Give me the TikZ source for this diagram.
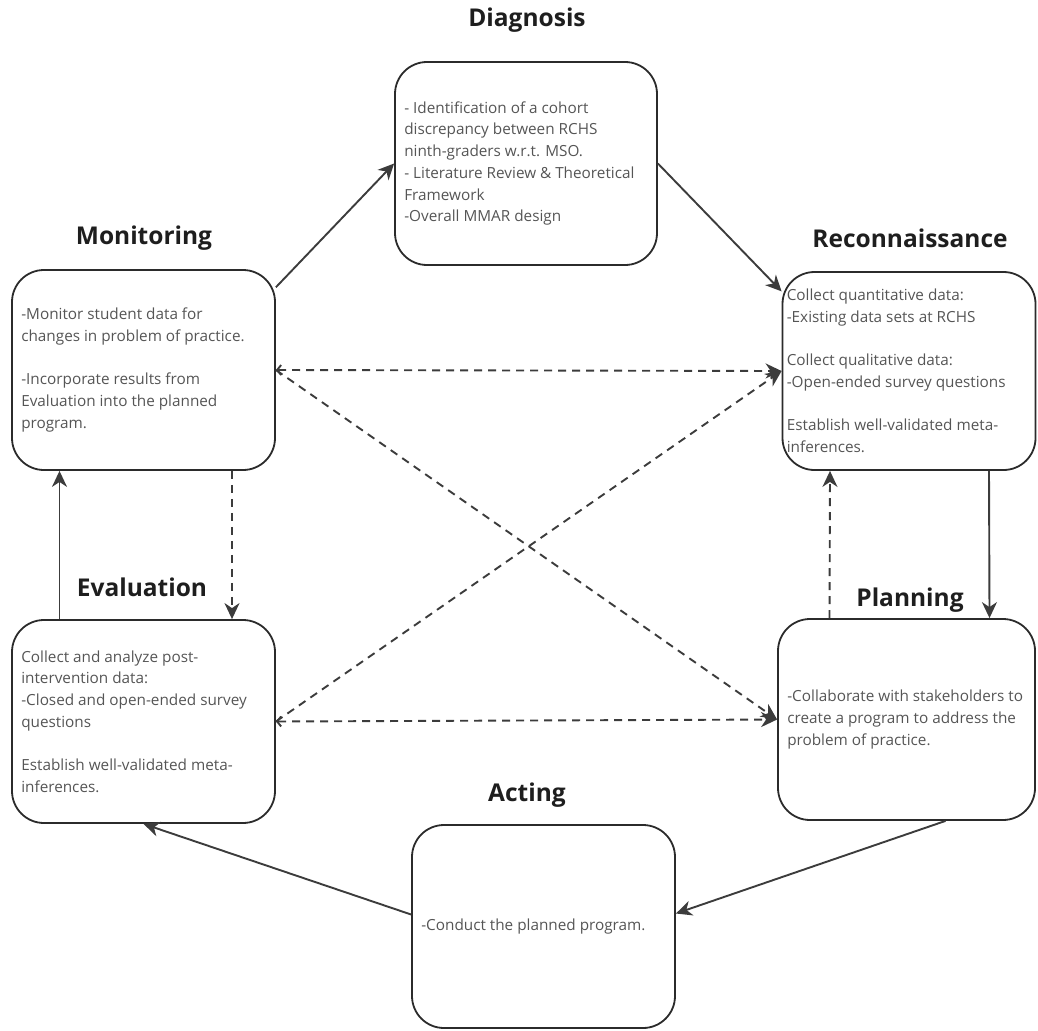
\documentclass[tikz,border=0pt]{standalone}
\usepackage{fontspec}
\setmainfont{Open Sans}
\usetikzlibrary{arrows.meta,calc}
\definecolor{boxline}{HTML}{2B2B2B}
\definecolor{arrowline}{HTML}{3C3C3C}
\definecolor{bodytext}{HTML}{555555}
\definecolor{titletext}{HTML}{1E1E1E}
\begin{document}
\begin{tikzpicture}[x=1pt,y=-1pt,
  stage/.style={draw=boxline, line width=1.8pt, rounded corners=32pt, inner sep=0pt},
  body/.style={anchor=west, align=left, text=bodytext, inner sep=0pt,
    font=\fontsize{15.3}{21.7}\selectfont},
  heading/.style={text=titletext, inner sep=0pt, font=\fontsize{24.5}{28}\selectfont\bfseries},
  flow/.style={draw=arrowline, line width=1.9pt, -{Stealth[length=16pt,width=15pt,inset=5pt]}},
  link/.style={flow, dash pattern=on 8pt off 6pt},
  backtip/.style={{Straight Barb[length=4pt,width=10pt]}-{Stealth[length=16pt,width=15pt,inset=5pt]}}]
\useasboundingbox (0,0) rectangle (1038,1030);

% stage boxes
\node[stage, minimum width=262pt, minimum height=203pt] (diag) at (526,163.5) {};
\node[stage, minimum width=263pt, minimum height=200pt] (mon) at (143.5,370) {};
\node[stage, minimum width=253pt, minimum height=198pt] (rec) at (909,371) {};
\node[stage, minimum width=263pt, minimum height=203pt] (eva) at (143.5,721.5) {};
\node[stage, minimum width=257pt, minimum height=201pt] (pla) at (906.5,719.5) {};
\node[stage, minimum width=263pt, minimum height=203pt] (act) at (543.5,926.5) {};

% stage headings
\node[heading] (diag-h) at (527,20) {Diagnosis};
\node[heading] (mon-h) at (144,238) {Monitoring};
\node[heading] (rec-h) at (910,238) {Reconnaissance};
\node[heading] (eva-h) at (142,587) {Evaluation};
\node[heading] (pla-h) at (910,600) {Planning};
\node[heading] (act-h) at (527,795) {Acting};

% stage contents
\node[body] (diag-t) at ([xshift=10pt]diag.west) {- Identification of a cohort\\discrepancy between RCHS\\ninth-graders w.r.t. MSO.\\- Literature Review \& Theoretical\\Framework\\-Overall MMAR design};
\node[body] (mon-t) at ([xshift=10pt]mon.west) {-Monitor student data for\\changes in problem of practice.\\[21.7pt]-Incorporate results from\\Evaluation into the planned\\program.};
\node[body] (rec-t) at ([xshift=5pt]rec.west) {Collect quantitative data:\\-Existing data sets at RCHS\\[21.7pt]Collect qualitative data:\\-Open-ended survey questions\\[21.7pt]Establish well-validated meta-\\inferences.};
\node[body] (eva-t) at ([xshift=10pt]eva.west) {Collect and analyze post-\\intervention data:\\-Closed and open-ended survey\\questions\\[21.7pt]Establish well-validated meta-\\inferences.};
\node[body] (pla-t) at ([xshift=10pt]pla.west) {-Collaborate with stakeholders to\\create a program to address the\\problem of practice.};
\node[body] (act-t) at ([xshift=10pt]act.west) {-Conduct the planned program.};

% main cycle
\draw[flow] (mon.32) -- (diag.west);
\draw[flow] (diag.east) -- (rec.148);
\draw[flow] ([xshift=80pt]rec.south) -- ([xshift=83pt]pla.north);
\draw[flow] ([xshift=39pt]pla.south) -- ([yshift=13pt]act.east);
\draw[flow] ([yshift=12pt]act.west) -- (eva.south);
\draw[flow] ([xshift=-84pt]eva.north) -- ([xshift=-84pt]mon.south);

% feedback links
\draw[link] ([xshift=88.5pt]mon.south) -- ([xshift=88.5pt]eva.north);
\draw[link] ([xshift=-77pt]pla.north) -- ([xshift=-79pt]rec.south);
\draw[link, backtip] (mon.east) -- (rec.west);
\draw[link] (mon.east) -- (pla.west);
\draw[link, backtip] (eva.east) -- (pla.west);
\draw[link] (eva.east) -- (rec.west);
\end{tikzpicture}
\end{document}
